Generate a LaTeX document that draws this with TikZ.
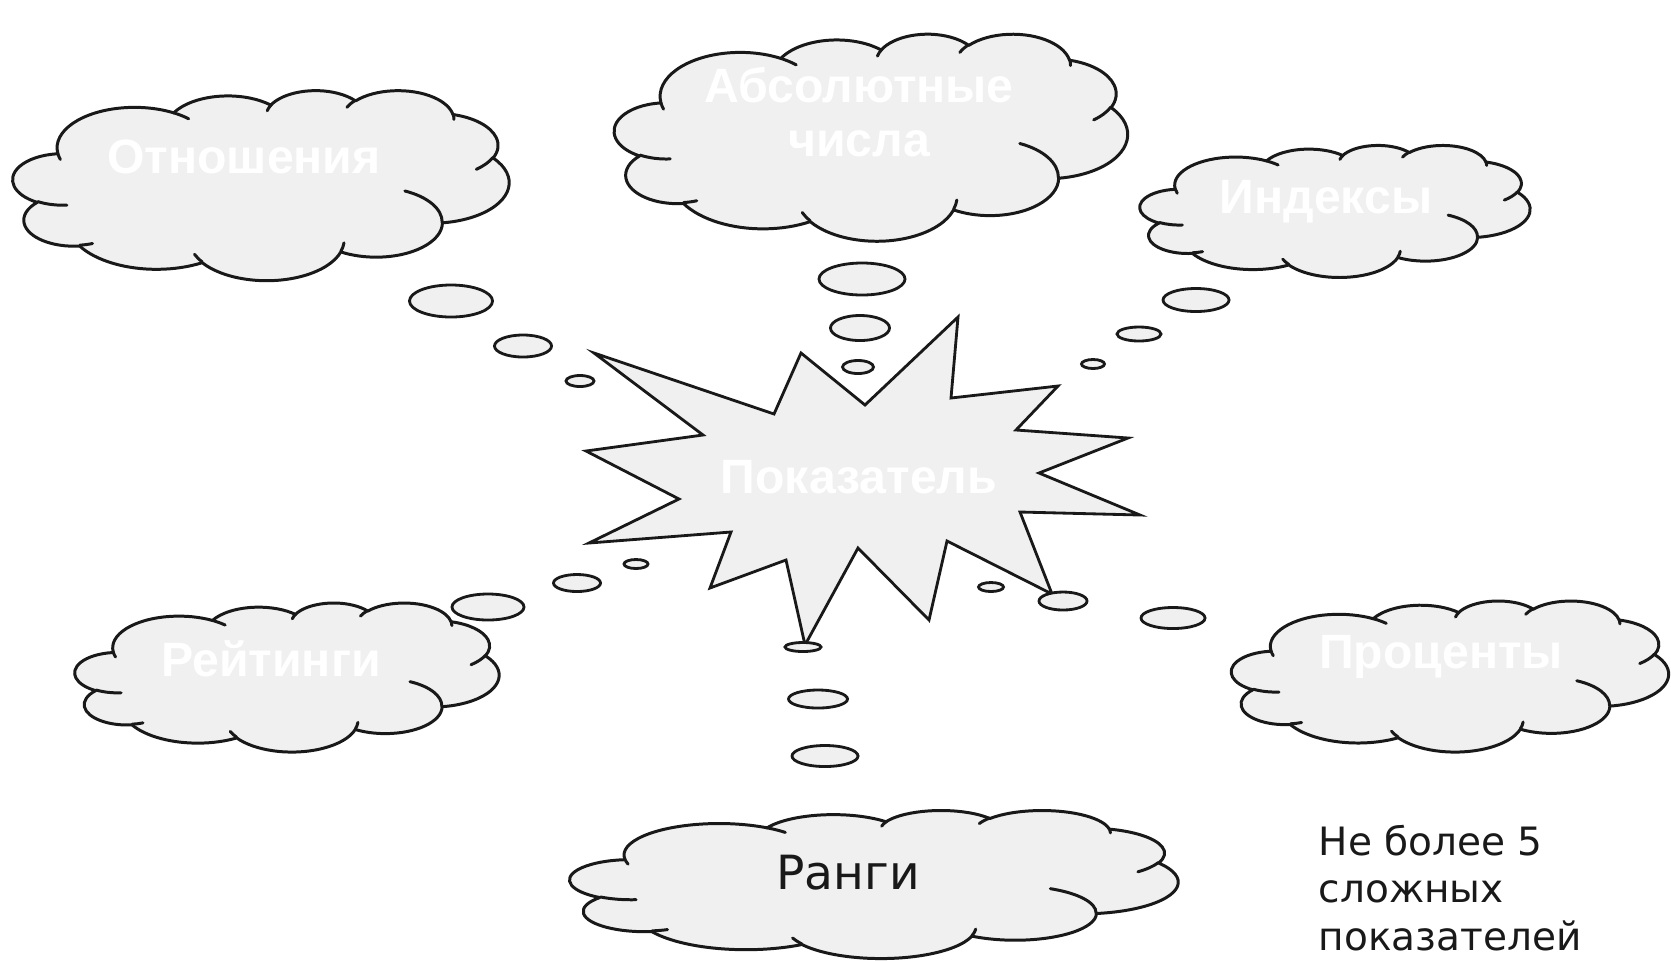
\documentclass[tikz,border=0pt]{standalone}
\usepackage{fontspec}
\setmainfont{DejaVu Sans}
\newfontfamily\boldcloudfont{Liberation Sans}
\usetikzlibrary{shapes.geometric}
\definecolor{puffgray}{RGB}{240,240,240}
\definecolor{inkblack}{RGB}{25,25,25}
\tikzset{
  cloudline/.style={draw=inkblack, line width=0.85pt, line join=round, line cap=round},
  cloudbody/.style={cloudline, fill=puffgray},
  cloudlabel/.style={font=\boldcloudfont\bfseries\fontsize{13.7}{15.4}\selectfont,
    text=white, align=center, inner sep=0pt},
  bubble/.style={ellipse, draw=inkblack, line width=0.8pt, fill=puffgray, inner sep=0pt},
  burst/.style={draw=inkblack, line width=0.8pt, fill=puffgray, line join=miter},
  darklabel/.style={font=\fontsize{13.4}{16}\selectfont, text=inkblack, inner sep=0pt},
  note/.style={font=\fontsize{11.1}{13.5}\selectfont, text=inkblack, align=left, inner sep=0pt}
}
% cloud outline (eleven arcs) and its inner strokes in a 100x100 box,
% centred at #2 and stretched to #3 x #4 px; #1 names the centre
\newcommand{\ideacloud}[4]{%
  \begin{scope}[shift={#2}, xscale=#3/100, yscale=#4/100, shift={(-50,-50)}]
    \path[cloudbody] (9.0278,33.2639)
      foreach \cwr/\chr/\cst/\csw in {
        15.6319/21.2731/-190.4875/123.7805, 12.3449/16.8218/-144.1024/89.9452,
        10.1042/13.7616/-145.8079/99.7230, 11.2431/15.2662/-130.9861/117.2417,
        12.3449/16.8356/-78.7089/109.0269, 15.6829/21.3426/-46.2673/130.2690,
        13.3912/18.2106/0.6250/114.0333, 15.6296/21.3310/22.4516/115.1726,
        17.8704/24.4051/66.2426/75.7110, 10.0926/13.6991/-274.9421/146.7356,
        10.0579/13.7616/-246.8285/152.5189}
      {arc[x radius=\cwr, y radius=\chr,
           start angle={atan2(\cwr*sin(\cst),\chr*cos(\cst))},
           delta angle={mod(atan2(\cwr*sin(\cst+\csw),\chr*cos(\cst+\csw))-atan2(\cwr*sin(\cst),\chr*cos(\cst))+720,360)}]}
      -- cycle;
    \foreach \cpx/\cpy/\cwr/\chr/\cst/\csw in {
        10.8634/60.5949/10.0579/13.7616/86.7420/26.4295,
        16.0370/80.7847/10.0926/13.6991/73.6105/11.4475,
        38.1435/90.4861/15.6296/21.3310/137.6242/14.0811,
        66.7292/80.4421/15.6296/21.3310/6.4533/15.9984,
        79.0023/53.1343/13.3912/18.2106/-70.2924/70.9174,
        96.7546/35.5417/12.3449/16.8356/30.3180/27.7515,
        88.7130/12.5602/11.2431/15.2662/-13.7443/14.8589,
        67.3102/9.1481/11.2431/15.2662/-149.1815/18.1954,
        51.2523/10.9259/10.1042/13.7616/-163.4943/17.6864,
        32.4074/12.0185/15.6319/21.2731/-66.7070/12.3194,
        9.5532/36.5486/15.6319/21.2731/157.6544/11.8582}
      \draw[cloudline] (\cpx,\cpy)
        arc[x radius=\cwr, y radius=\chr,
            start angle={atan2(\cwr*sin(\cst),\chr*cos(\cst))},
            delta angle={mod(atan2(\cwr*sin(\cst+\csw),\chr*cos(\cst+\csw))-atan2(\cwr*sin(\cst),\chr*cos(\cst))+720,360)}];
    \coordinate (#1) at (50,50);
  \end{scope}}

\begin{document}
\begin{tikzpicture}[x=0.01cm, y=-0.01cm]
\path[fill=white, use as bounding box] (0,0) rectangle (1671,960);

% -------- clouds --------
\ideacloud{otn}{(261,185)}{496}{190}
\ideacloud{abs}{(871,137)}{513}{207}
\ideacloud{ind}{(1335,211)}{390}{132}
\ideacloud{rei}{(287,677)}{424}{149}
\ideacloud{pro}{(1450,676)}{437}{151}
\ideacloud{ran}{(874,884)}{608}{148}

% -------- central burst --------
\draw[burst] (594,353) -- (774,414) -- (801,353) -- (865,405) -- (958,317)
  -- (951,398) -- (1058,386) -- (1016,430) -- (1128,438) -- (1039,473)
  -- (1140,515) -- (1020,512) -- (1052,594) -- (947,541) -- (929,620)
  -- (858,548) -- (805,645) -- (786,560) -- (710,588) -- (731,532)
  -- (589,543) -- (679,499) -- (586,451) -- (703,435) -- cycle;

% -------- thought bubbles --------
\foreach \bname/\bx/\by/\bw/\bh in {
    otn1/451/301/0.83/0.32, otn2/523/346/0.57/0.22, otn3/580/381/0.28/0.11,
    abs1/862/279/0.86/0.32, abs2/860/328/0.59/0.25, abs3/858/367/0.31/0.13,
    ind1/1196/300/0.66/0.23, ind2/1139/334/0.44/0.14, ind3/1093/364/0.23/0.09,
    rei1/488/607/0.72/0.26, rei2/577/583/0.47/0.17, rei3/636/564/0.24/0.09,
    pro1/1173/618/0.64/0.21, pro2/1063/601/0.48/0.18, pro3/991/587/0.25/0.09,
    ran1/825/756/0.66/0.21, ran2/818/699/0.59/0.18, ran3/803/647/0.36/0.09}
  \node[bubble, minimum width=\bw cm, minimum height=\bh cm] (\bname) at (\bx,\by) {};

% -------- labels --------
\node[cloudlabel] (otnT) at (244,157) {Отношения};
\node[cloudlabel] (absT) at (859,112) {Абсолютные\\числа};
\node[cloudlabel] (indT) at (1326,202) {Индексы};
\node[cloudlabel] (reiT) at (271,659) {Рейтинги};
\node[cloudlabel] (proT) at (1441,657) {Проценты};
\node[cloudlabel] (pokT) at (859,477) {Показатель};
\node[darklabel] (ranT) at (848,873) {Ранги};
\node[note, anchor=north west] (noteT) at (1318,824) {Не более 5\\сложных\\показателей};

\end{tikzpicture}
\end{document}
